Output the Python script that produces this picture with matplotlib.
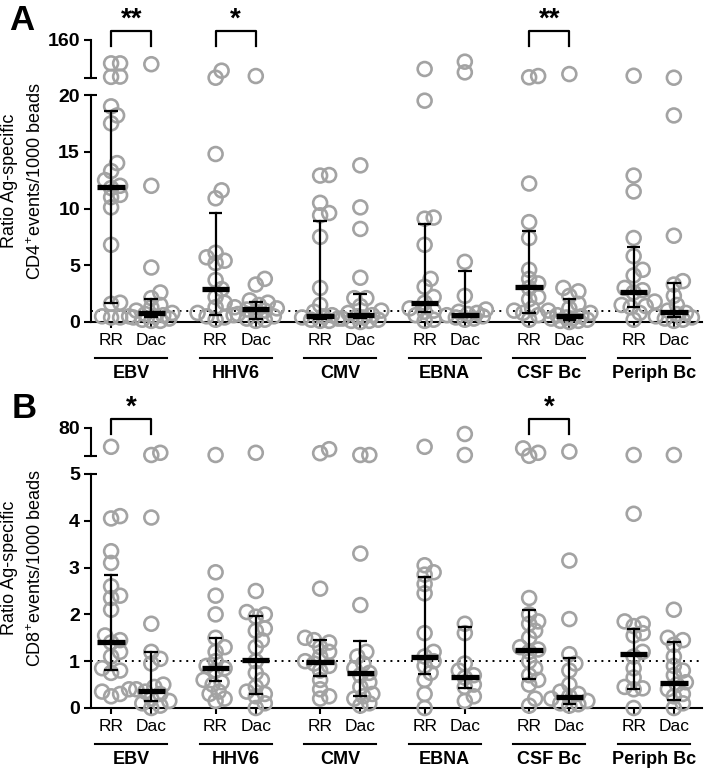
import numpy as np
import matplotlib
matplotlib.use("Agg")
import matplotlib.pyplot as plt
from matplotlib.transforms import blended_transform_factory

plt.rcParams['font.family'] = ['Liberation Sans', 'DejaVu Sans']
plt.rcParams['mathtext.fontset'] = 'custom'
plt.rcParams['mathtext.rm'] = 'Liberation Sans'
plt.rcParams['mathtext.it'] = 'Liberation Sans:italic'
plt.rcParams['mathtext.bf'] = 'Liberation Sans:bold'

groups = ["EBV", "HHV6", "CMV", "EBNA", "CSF Bc", "Periph Bc"]
cohorts = ["RR", "Dac"]

# panel A : CD4+ ratios
a_ebv_rr = [77, 77, 30, 29, 19.0, 18.2, 17.5, 14.0, 13.3, 12.5, 12.0, 11.8, 11.2, 11.0, 10.1, 6.8, 1.7, 1.6, 0.5, 0.5, 0.4, 0.4]
a_ebv_dac = [74, 12.0, 4.8, 2.6, 2.1, 1.5, 1.3, 1.0, 0.8, 0.7, 0.6, 0.5, 0.4, 0.3, 0.2, 0.1, 0.1]
a_hhv6_rr = [51, 26, 14.8, 11.6, 10.9, 6.1, 5.7, 5.4, 5.2, 3.7, 2.9, 2.2, 1.7, 1.3, 0.8, 0.6, 0.5, 0.4, 0.2]
a_hhv6_dac = [32, 3.8, 3.3, 1.9, 1.7, 1.5, 1.3, 1.2, 1.1, 1.0, 0.9, 0.7, 0.5, 0.3, 0.2, 0.1]
a_cmv_rr = [12.95, 12.9, 10.5, 9.6, 9.4, 7.5, 3.0, 1.5, 0.9, 0.6, 0.5, 0.4, 0.3, 0.2, 0.1, 0.1]
a_cmv_dac = [13.8, 10.1, 8.2, 3.9, 2.1, 2.1, 1.4, 1.0, 0.8, 0.6, 0.5, 0.4, 0.3, 0.2, 0.1, 0.1, 0.0]
a_ebna_rr = [57, 19.5, 9.2, 9.1, 6.8, 3.8, 3.1, 2.2, 1.7, 1.2, 1.0, 0.9, 0.6, 0.2, 0.1]
a_ebna_dac = [83, 45, 5.3, 2.3, 1.1, 0.9, 0.8, 0.7, 0.6, 0.5, 0.4, 0.3, 0.2]
a_csf_rr = [32, 27.5, 12.2, 8.8, 7.4, 4.6, 3.8, 3.4, 3.0, 2.2, 2.0, 1.2, 1.0, 0.8, 0.6, 0.2]
a_csf_dac = [39, 3.0, 2.7, 2.3, 1.6, 1.2, 1.0, 0.8, 0.6, 0.5, 0.4, 0.3, 0.3, 0.2, 0.1, 0.1, 0.0]
a_periph_rr = [33, 12.9, 11.5, 7.4, 5.8, 4.6, 4.1, 3.0, 2.8, 2.6, 1.8, 1.5, 1.4, 1.3, 0.8, 0.2]
a_periph_dac = [26, 18.2, 7.6, 3.6, 3.3, 2.3, 1.5, 1.0, 0.8, 0.7, 0.5, 0.4, 0.3, 0.2, 0.1]
a_median = [11.9, 0.82, 2.9, 1.15, 0.53, 0.6, 1.65, 0.6, 3.05, 0.5, 2.6, 0.85]
a_q1 = [1.7, 0.41, 0.6, 0.3, 0.3, 0.35, 0.85, 0.4, 0.75, 0.2, 1.35, 0.4]
a_q3 = [18.6, 2.0, 9.6, 1.75, 8.9, 2.45, 8.6, 4.5, 8.05, 2.05, 6.6, 3.45]
a_stars = {"EBV": "**", "HHV6": "*", "CSF Bc": "**"}

# panel B : CD8+ ratios
b_ebv_rr = [33, 4.1, 4.05, 3.35, 3.1, 2.6, 2.4, 2.35, 2.1, 1.55, 1.45, 1.4, 1.2, 1.1, 0.85, 0.8, 0.75, 0.4, 0.35, 0.3, 0.25]
b_ebv_dac = [18, 12.5, 4.07, 1.8, 1.2, 1.05, 0.95, 0.5, 0.45, 0.4, 0.35, 0.3, 0.2, 0.15, 0.1, 0.05, 0.0]
b_hhv6_rr = [12.5, 2.9, 2.4, 2.0, 1.5, 1.3, 1.2, 1.0, 0.9, 0.85, 0.8, 0.6, 0.55, 0.5, 0.35, 0.3, 0.2, 0.15]
b_hhv6_dac = [18, 2.5, 2.05, 2.0, 1.95, 1.7, 1.65, 1.45, 1.3, 1.0, 0.75, 0.6, 0.45, 0.35, 0.3, 0.25, 0.1, 0.0]
b_cmv_rr = [27, 17, 2.55, 1.5, 1.45, 1.4, 1.3, 1.2, 1.1, 1.0, 0.95, 0.9, 0.8, 0.6, 0.4, 0.25, 0.2]
b_cmv_dac = [12.5, 12.5, 3.3, 2.2, 1.2, 1.1, 0.95, 0.85, 0.75, 0.7, 0.55, 0.45, 0.3, 0.25, 0.2, 0.1, 0.05]
b_ebna_rr = [33, 3.05, 2.9, 2.85, 2.65, 2.45, 1.6, 1.2, 1.1, 1.0, 0.9, 0.75, 0.6, 0.3, 0.0]
b_ebna_dac = [65, 12.5, 1.8, 1.6, 0.95, 0.8, 0.7, 0.65, 0.5, 0.45, 0.25, 0.15]
b_csf_rr = [29, 18, 10.5, 2.35, 2.0, 1.85, 1.8, 1.65, 1.5, 1.3, 1.25, 1.2, 1.0, 0.85, 0.7, 0.6, 0.5, 0.2, 0.05]
b_csf_dac = [21, 3.15, 1.9, 1.15, 0.95, 0.8, 0.5, 0.35, 0.3, 0.25, 0.2, 0.15, 0.1, 0.08, 0.05]
b_periph_rr = [12.5, 4.15, 1.85, 1.8, 1.75, 1.6, 1.55, 1.2, 1.1, 0.85, 0.65, 0.45, 0.42, 0.4, 0.0]
b_periph_dac = [12.5, 2.1, 1.5, 1.45, 1.35, 1.1, 0.9, 0.8, 0.7, 0.55, 0.5, 0.4, 0.3, 0.25, 0.1, 0.0]
b_median = [1.4, 0.37, 0.85, 1.03, 0.99, 0.74, 1.08, 0.67, 1.25, 0.24, 1.15, 0.53]
b_q1 = [0.81, 0.16, 0.58, 0.29, 0.68, 0.26, 0.72, 0.42, 0.61, 0.09, 0.41, 0.17]
b_q3 = [2.85, 1.19, 1.49, 1.97, 1.45, 1.43, 2.8, 1.74, 2.1, 1.06, 1.68, 1.4]
b_stars = {"EBV": "*", "CSF Bc": "*"}

a_values = [a_ebv_rr, a_ebv_dac, a_hhv6_rr, a_hhv6_dac, a_cmv_rr, a_cmv_dac,
            a_ebna_rr, a_ebna_dac, a_csf_rr, a_csf_dac, a_periph_rr, a_periph_dac]
b_values = [b_ebv_rr, b_ebv_dac, b_hhv6_rr, b_hhv6_dac, b_cmv_rr, b_cmv_dac,
            b_ebna_rr, b_ebna_dac, b_csf_rr, b_csf_dac, b_periph_rr, b_periph_dac]

GREY = '#a3a3a3'
W, H = 705, 773
xpos = [2.6 * g + c for g in range(len(groups)) for c in range(2)]
xlim = (-0.5, 14.7)


def swarm(ypix, d=9.0, step=3.0, maxoff=21.0):
    # beeswarm in pixel space, offsets kept within +-maxoff
    order = np.argsort(ypix)
    placed = []
    offs = np.zeros(len(ypix))
    nsteps = int(maxoff // step)
    for i in order:
        cands = [0.0]
        for k in range(1, nsteps + 1):
            cands += [k * step, -k * step]
        best, bestd = 0.0, -1
        for c in cands:
            if placed:
                dmin = min(np.hypot(c - px, ypix[i] - py) for px, py in placed)
            else:
                dmin = 1e9
            if dmin >= d:
                best = c
                break
            if dmin > bestd:
                best, bestd = c, dmin
        offs[i] = best
        placed.append((best, ypix[i]))
    return offs


def pix_axes(fig, left, right, top, bottom):
    return fig.add_axes([left / W, 1 - bottom / H, (right - left) / W, (bottom - top) / H])


def style_axis(ax, lw=1.5):
    for s in ['top', 'right']:
        ax.spines[s].set_visible(False)
    ax.spines['left'].set_linewidth(lw)
    ax.spines['bottom'].set_linewidth(lw)
    ax.tick_params(axis='y', length=5, width=lw, pad=3)


def panel(fig, top_hi, bot_hi, top_lo, bot_lo, hi_lim, lo_lim, lo_ticks, values,
          median, q1, q3, stars, letter, letter_xy, ylab):
    ax_hi = pix_axes(fig, 91, 702, top_hi, bot_hi)
    ax_lo = pix_axes(fig, 91, 702, top_lo, bot_lo)
    for ax in (ax_hi, ax_lo):
        ax.set_xlim(*xlim)
        ax.patch.set_alpha(0)
    ax_hi.set_ylim(*hi_lim)
    ax_lo.set_ylim(*lo_lim)

    style_axis(ax_lo)
    ax_lo.set_yticks(lo_ticks)
    ax_lo.set_yticklabels([str(t) for t in lo_ticks], fontweight='bold', fontsize=14)
    ax_lo.set_xticks(xpos)
    ax_lo.set_xticklabels(cohorts * len(groups), fontsize=12.5)
    ax_lo.tick_params(axis='x', length=4, width=1.5, pad=4)

    style_axis(ax_hi)
    ax_hi.spines['bottom'].set_visible(False)
    ax_hi.set_xticks([])
    ax_hi.set_yticks(hi_lim)
    ax_hi.set_yticklabels(['', str(hi_lim[1])], fontweight='bold', fontsize=14)

    # break marks
    for ax, yy in ((ax_hi, 0), (ax_lo, 1)):
        ax.plot([0, 6 / 611], [yy, yy], transform=ax.transAxes, color='k',
                lw=1.5, clip_on=False, solid_capstyle='butt')

    ppu = (ax_lo.transData.transform((1, 0))[0] - ax_lo.transData.transform((0, 0))[0])

    for i, vals in enumerate(values):
        x0 = xpos[i]
        vals = np.array(vals, dtype=float)
        for ax, sel in ((ax_lo, vals <= lo_lim[1]), (ax_hi, vals > lo_lim[1])):
            v = vals[sel]
            if len(v) == 0:
                continue
            ypx = ax.transData.transform(np.column_stack([np.full(len(v), x0), v]))[:, 1]
            offs = swarm(ypx) / ppu
            ax.scatter(x0 + offs, v, s=100, facecolors='none', edgecolors=GREY,
                       linewidths=1.9, clip_on=False, zorder=3)
        ax_lo.plot([x0, x0], [q1[i], q3[i]], color='k', lw=1.6, zorder=4, clip_on=False)
        for q in (q1[i], q3[i]):
            ax_lo.plot([x0 - 0.17, x0 + 0.17], [q, q], color='k', lw=1.6, zorder=4,
                       solid_capstyle='butt', clip_on=False)
        ax_lo.plot([x0 - 0.34, x0 + 0.34], [median[i], median[i]], color='k', lw=3.8,
                   zorder=5, solid_capstyle='butt', clip_on=False)

    ax_lo.axhline(1, color='k', lw=1.4, ls=(0, (1, 2.5)), zorder=1)

    # group lines and labels below the x axis
    h_lo = bot_lo - top_lo
    tr = blended_transform_factory(ax_lo.transData, ax_lo.transAxes)
    for g, name in enumerate(groups):
        c = (xpos[2 * g] + xpos[2 * g + 1]) / 2
        ax_lo.plot([c - 0.9, c + 0.9], [-36 / h_lo, -36 / h_lo], transform=tr,
                   color='k', lw=1.5, clip_on=False)
        ax_lo.text(c, -51 / h_lo, name, transform=tr, ha='center', va='center',
                   fontsize=13, fontweight='bold')

    # significance brackets
    h_hi = bot_hi - top_hi
    trh = blended_transform_factory(ax_hi.transData, ax_hi.transAxes)
    for name, s in stars.items():
        g = groups.index(name)
        x1, x2 = xpos[2 * g], xpos[2 * g + 1]
        yt = 1 + 9 / h_hi
        yb = 1 - 6 / h_hi
        ax_hi.plot([x1, x1, x2, x2], [yb, yt, yt, yb], transform=trh, color='k',
                   lw=1.6, clip_on=False)
        ax_hi.text((x1 + x2) / 2, 1 + 20 / h_hi, s, transform=trh, ha='center',
                   va='center', fontsize=20, fontweight='bold')

    fig.text(letter_xy[0] / W, 1 - letter_xy[1] / H, letter, ha='left', va='top',
             fontsize=25, fontweight='bold')
    yc = 1 - (top_hi + bot_lo) / 2 / H
    fig.text(10 / W, yc, "Ratio Ag-specific", rotation=90, ha='center', va='center',
             fontsize=13)
    fig.text(36 / W, yc, ylab, rotation=90, ha='center', va='center', fontsize=13)


fig = plt.figure(figsize=(W / 100, H / 100), dpi=100)
panel(fig, 40, 78, 95, 322, (25, 160), (0, 20), [0, 5, 10, 15, 20], a_values,
      a_median, a_q1, a_q3, a_stars, "A", (9, 4), "CD4$^{+}$events/1000 beads")
panel(fig, 428, 456, 474, 708, (10, 80), (0, 5), [0, 1, 2, 3, 4, 5], b_values,
      b_median, b_q1, b_q3, b_stars, "B", (12, 392), "CD8$^{+}$events/1000 beads")

fig.savefig("out.png", dpi=100)
